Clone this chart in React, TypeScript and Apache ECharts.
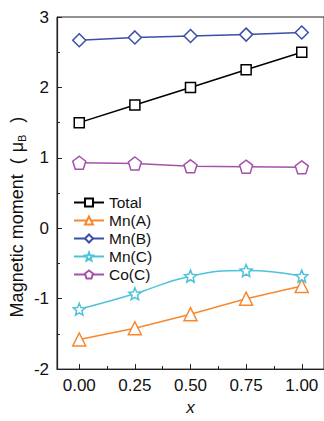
import React, { useEffect, useRef } from "react";
import * as echarts from "echarts";

const xValues = [0, 0.25, 0.5, 0.75, 1.0];
const totalValues = [1.5, 1.75, 2.0, 2.25, 2.5];
const mnAValues = [-1.58, -1.42, -1.22, -1.0, -0.82];
const mnBValues = [2.67, 2.71, 2.73, 2.75, 2.78];
const mnCValues = [-1.15, -0.93, -0.68, -0.6, -0.68];
const coCValues = [0.93, 0.92, 0.88, 0.875, 0.865];
const xMajorTicks = [0, 0.25, 0.5, 0.75, 1.0];
const xMinorTicks = [0.125, 0.375, 0.625, 0.875];

const STAR =
  "path://M0,-10 L2.65,-3.64 L9.51,-3.09 L4.28,1.39 L5.88,8.09 L0,4.5 L-5.88,8.09 L-4.28,1.39 L-9.51,-3.09 L-2.65,-3.64 Z";
const PENTAGON = "path://M0,-10 L9.51,-3.09 L5.88,8.09 L-5.88,8.09 L-9.51,-3.09 Z";

const FONT = "Liberation Sans, Arial, sans-serif";
const AXIS = "#222";

function mk(name: string, vals: number[], color: string, symbol: string, size: number, smooth = false) {
  return {
    name,
    type: "line",
    data: xValues.map((x, i) => [x, vals[i]]),
    smooth,
    symbol,
    symbolSize: size,
    showSymbol: true,
    color,
    lineStyle: { color, width: 1.5 },
    itemStyle: { color: "#fff", borderColor: color, borderWidth: 1.5 },
    z: 3,
  };
}

export default function App() {
  const ref = useRef<HTMLDivElement>(null);
  useEffect(() => {
    if (!ref.current) return;
    const chart = echarts.init(ref.current, undefined, { renderer: "svg" });
    chart.setOption({
      animation: false,
      backgroundColor: "#fff",
      textStyle: { fontFamily: FONT },
      grid: {
        left: 57,
        top: 17,
        width: 269,
        height: 366,
        show: true,
        borderColor: AXIS,
        borderWidth: 1,
        backgroundColor: "transparent",
      },
      legend: {
        orient: "vertical",
        left: 68,
        top: 189,
        itemWidth: 30,
        itemHeight: 10,
        itemGap: 1,
        textStyle: { fontSize: 15.5, color: "#111", fontFamily: FONT, lineHeight: 17 },
        data: ["Total", "Mn(A)", "Mn(B)", "Mn(C)", "Co(C)"],
      },
      xAxis: [
        {
          type: "value",
          min: -0.1,
          max: 1.1,
          position: "bottom",
          axisLine: { show: true, onZero: false, lineStyle: { color: AXIS, width: 1.2 } },
          axisTick: { show: true, inside: true, length: 5, customValues: xMajorTicks, lineStyle: { color: AXIS } },
          axisLabel: {
            customValues: xMajorTicks,
            formatter: (v: number) => v.toFixed(2),
            fontSize: 17,
            color: "#111",
            margin: 8,
            fontFamily: FONT,
          },
          splitLine: { show: false },
          name: "x",
          nameLocation: "middle",
          nameGap: 28,
          nameTextStyle: { fontSize: 17, fontStyle: "italic", color: "#111", fontFamily: FONT },
        },
        {
          type: "value",
          min: -0.1,
          max: 1.1,
          position: "bottom",
          offset: 0,
          axisLine: { show: false, onZero: false },
          axisTick: { show: true, inside: true, length: 3, customValues: xMinorTicks, lineStyle: { color: AXIS } },
          axisLabel: { show: false },
          splitLine: { show: false },
        },
      ],
      yAxis: {
        type: "value",
        min: -2,
        max: 3,
        interval: 1,
        position: "left",
        axisLine: { show: true, onZero: false, lineStyle: { color: AXIS, width: 1.2 } },
        axisTick: { show: true, inside: true, length: 5, lineStyle: { color: AXIS } },
        minorTick: { show: true, splitNumber: 2, length: 3, lineStyle: { color: AXIS } },
        axisLabel: { fontSize: 17, color: "#111", margin: 8, fontFamily: FONT },
        splitLine: { show: false },
      },
      graphic: [
        {
          type: "text",
          x: 17,
          y: 217,
          rotation: Math.PI / 2,
          style: {
            text: "{a|Magnetic moment}{p|(}{m|μ}{b|B}{q|)}",
            align: "center",
            verticalAlign: "middle",
            fill: "#111",
            rich: {
              a: { fontSize: 18, fontFamily: FONT, fill: "#111" } as any,
              p: { fontSize: 18, fontFamily: FONT, fill: "#111", padding: [0, 0, 0, 10] } as any,
              m: { fontSize: 18, fontFamily: FONT, fill: "#111", padding: [0, 0, 0, 6] } as any,
              b: { fontSize: 11, fontFamily: FONT, fill: "#111", padding: [9, 0, 0, 0] } as any,
              q: { fontSize: 18, fontFamily: FONT, fill: "#111", padding: [0, 0, 0, 12] } as any,
            },
          },
        },
      ],
      series: [
        mk("Total", totalValues, "#000000", "rect", 10),
        mk("Mn(A)", mnAValues, "#F7882F", "triangle", 13),
        mk("Mn(B)", mnBValues, "#3B4EA8", "diamond", 13),
        mk("Mn(C)", mnCValues, "#4EC2DA", STAR, 12, true),
        mk("Co(C)", coCValues, "#A452A8", PENTAGON, 13),
      ],
    });
    return () => chart.dispose();
  }, []);
  return <div ref={ref} style={{ width: 324, height: 421, position: "absolute", left: 0, top: 0 }} />;
}
